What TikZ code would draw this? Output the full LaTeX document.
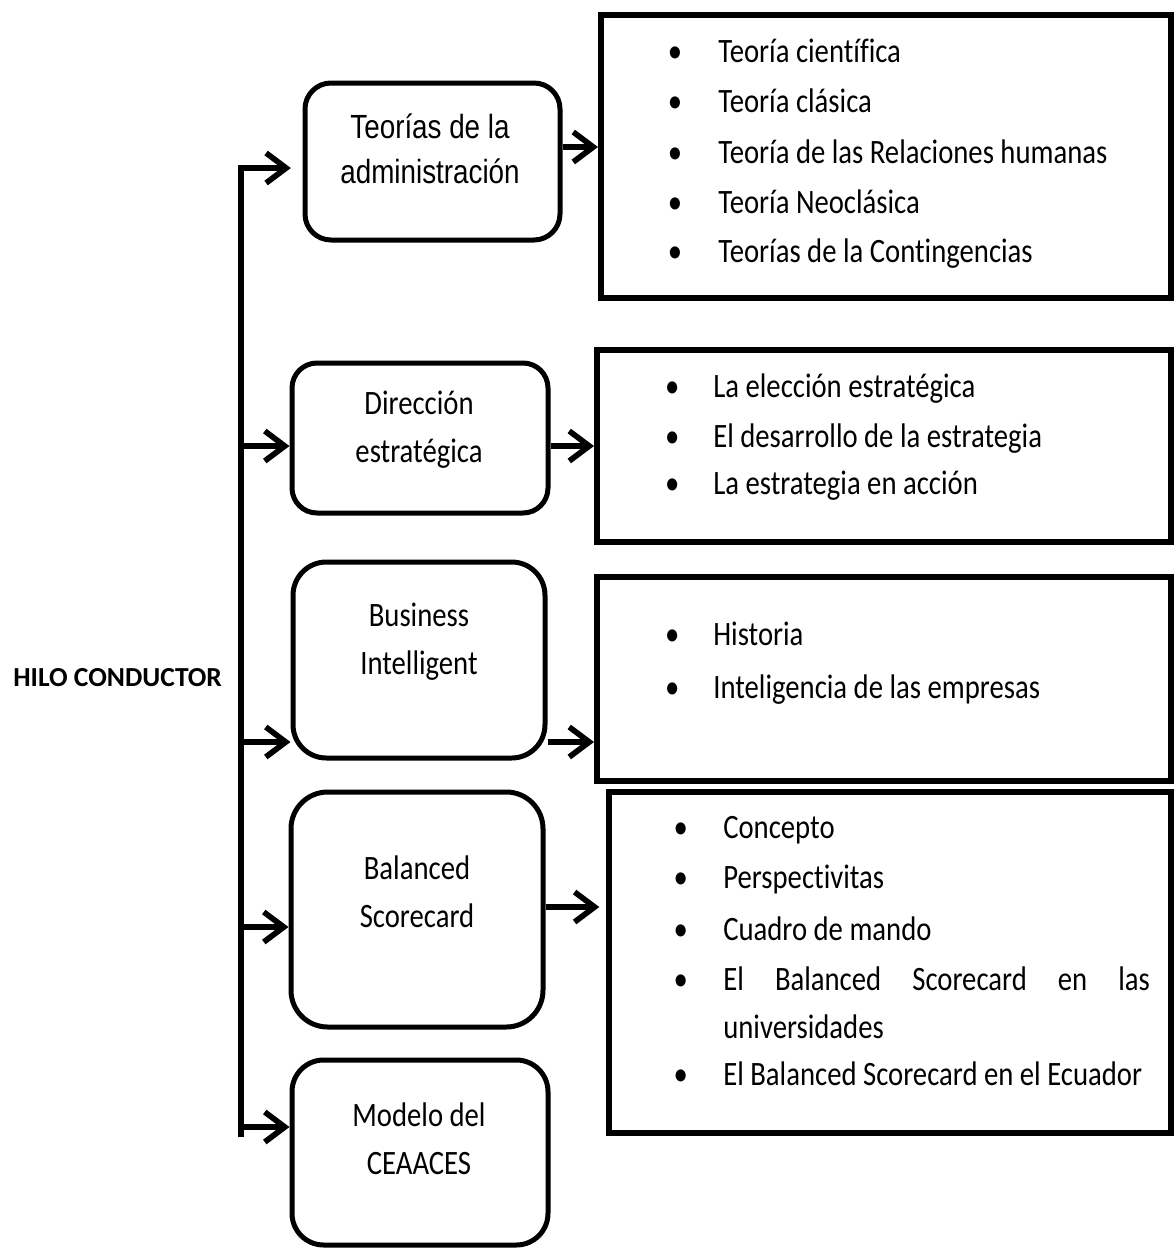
\documentclass[tikz,border=0pt]{standalone}
\usepackage{fontspec}
\setmainfont{Carlito}[FakeStretch=0.84,Ligatures={NoCommon}]
\newfontfamily\arialcond{Liberation Sans}[FakeStretch=0.83]
\newfontfamily\hilofont{Carlito}[Ligatures={NoCommon}]
\usetikzlibrary{arrows.meta,fit}

% bullet centred #1 to the left of the text start
\newcommand\bulletat[1]{\llap{\makebox[0pt]{\textbullet}\hspace{#1}}}

\begin{document}
\begin{tikzpicture}[x=0.6pt,y=-0.6pt,
  rbox/.style={draw, line width=3pt, rounded corners=#1, inner sep=0pt},
  lbox/.style={draw, line width=3.6pt, inner sep=0pt},
  arr/.style={line width=3.4pt, line join=miter,
    -{Straight Barb[length=12pt,width=18pt]}},
  boxtext/.style={align=center, inner sep=0pt,
    font=\fontsize{20.5}{29}\selectfont},
  entry/.style={anchor=base west, inner sep=0pt,
    font=\fontsize{20.5}{29}\selectfont},
]
\useasboundingbox (0,0) rectangle (1176,1250);

% topic boxes
\node[rbox=15.6pt, fit={(305,83) (560,240)}]   (B1) {};
\node[rbox=15pt,   fit={(292,363) (548,513)}]  (B2) {};
\node[rbox=20pt,   fit={(293,562) (545,758)}]  (B3) {};
\node[rbox=22pt,   fit={(291,792) (543,1027)}] (B4) {};
\node[rbox=19pt,   fit={(292,1060) (548,1245)}] (B5) {};

\node[boxtext, font=\arialcond\fontsize{20.1}{27}\selectfont] (T1) at (430,149)
  {Teorías de la\\administración};
\node[boxtext] (T2) at (419,430) {Dirección\\estratégica};
\node[boxtext] (T3) at (419,642) {Business\\Intelligent};
\node[boxtext] (T4) at (417,892) {Balanced\\Scorecard};
\node[boxtext] (T5) at (419,1139) {Modelo del\\CEAACES};

% content boxes
\node[lbox, fit={(601,15) (1171,298)}]  (L1) {};
\node[lbox, fit={(597,350) (1171,542)}] (L2) {};
\node[lbox, fit={(597,577) (1171,781)}] (L3) {};
\node[lbox, fit={(609,792) (1171,1133)}] (L4) {};

% entries of the first box
\node[entry] (e11) at (718,62)  {\bulletat{26pt}Teoría científica};
\node[entry] (e12) at (718,112) {\bulletat{26pt}Teoría clásica};
\node[entry] (e13) at (718,163) {\bulletat{26pt}Teoría de las Relaciones humanas};
\node[entry] (e14) at (718,213) {\bulletat{26pt}Teoría Neoclásica};
\node[entry] (e15) at (718,262) {\bulletat{26pt}Teorías de la Contingencias};

% entries of the second box
\node[entry] (e21) at (713,397) {\bulletat{24.6pt}La elección estratégica};
\node[entry] (e22) at (713,447) {\bulletat{24.6pt}El desarrollo de la estrategia};
\node[entry] (e23) at (713,494) {\bulletat{24.6pt}La estrategia en acción};

% entries of the third box
\node[entry] (e31) at (713,645) {\bulletat{24.6pt}Historia};
\node[entry] (e32) at (713,698) {\bulletat{24.6pt}Inteligencia de las empresas};

% entries of the fourth box
\node[entry] (e41) at (723,838) {\bulletat{25.5pt}Concepto};
\node[entry] (e42) at (723,888) {\bulletat{25.5pt}Perspectivitas};
\node[entry] (e43) at (723,940) {\bulletat{25.5pt}Cuadro de mando};
\node[entry] (e44) at (723,990) {\parbox[t]{256pt}{%
  \fontsize{20.5}{28.8}\selectfont\hyphenpenalty=10000\tolerance=10000
  \noindent\bulletat{25.5pt}El Balanced Scorecard en las universidades}};
\node[entry] (e45) at (723,1085) {\bulletat{25.5pt}El Balanced Scorecard en el Ecuador};

% side title
\node[anchor=base west, inner sep=0pt,
  font=\hilofont\bfseries\fontsize{16.5}{20}\selectfont] (hilo) at (13,686)
  {HILO CONDUCTOR};

% trunk and branches
\coordinate (ttop) at (241,168);
\coordinate (tbot) at (241,1137);
\coordinate (j2) at (241,446);
\coordinate (j3) at (241,742);
\coordinate (j4) at (241,927);
\coordinate (j5) at (241,1127);
\draw[arr, shorten >=7pt] (tbot) -- (ttop) -- (ttop -| B1.west);
\draw[arr] (j2) -- (j2 -| B2.west);
\draw[arr] (j3) -- (j3 -| B3.west);
\draw[arr] (j4) -- (j4 -| B4.west);
\draw[arr] (j5) -- (j5 -| B5.west);

% links from topics to their contents
\coordinate (o1) at (0,147);
\coordinate (o2) at (0,446);
\coordinate (o3) at (0,742);
\coordinate (o4) at (0,907);
\draw[arr] (B1.east |- o1) -- (L1.west |- o1);
\draw[arr] (B2.east |- o2) -- (L2.west |- o2);
\draw[arr] (B3.east |- o3) -- (L3.west |- o3);
\draw[arr, shorten >=4pt] (B4.east |- o4) -- (L4.west |- o4);
\end{tikzpicture}
\end{document}
